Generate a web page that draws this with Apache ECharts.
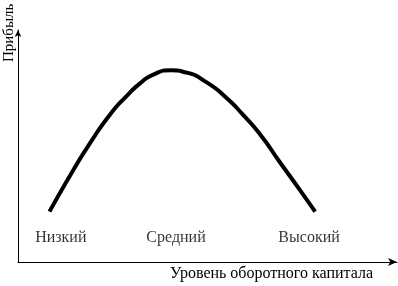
<!DOCTYPE html>
<html><head><meta charset="utf-8">
<script src="https://cdn.jsdelivr.net/npm/echarts@6/dist/echarts.min.js"></script>
<style>html,body{margin:0;padding:0;background:#fff}#c{width:398px;height:286px}</style>
</head><body><div id="c"></div>
<script>
// Curve (abstract units 0..100 on both axes)
const curveX = [8.3, 14.6, 19.0, 24.3, 28.7, 32.2, 35.7, 40.4, 44.5, 49.8, 55.1, 59.4, 63.9, 69.1, 74.4, 78.4];
const curveY = [21.7, 39.7, 51.2, 63.6, 71.6, 77.0, 80.8, 82.6, 81.6, 77.4, 70.6, 63.4, 55.0, 43.0, 31.0, 21.7];
// Level labels
const levelNames = ['Низкий', 'Средний', 'Высокий'];
const levelX = [11.3, 41.7, 76.8];
const levelY = [10.6, 10.6, 10.6];
const xName = 'Уровень оборотного капитала';
const yName = 'Прибыль';

const font = 'Liberation Serif, Times New Roman, serif';
const chart = echarts.init(document.getElementById('c'), null, {renderer: 'canvas'});
chart.setOption({
  animation: false,
  backgroundColor: '#fff',
  grid: {left: 18, top: 30, right: 1, bottom: 24, containLabel: false},
  xAxis: {
    type: 'value', min: 0, max: 100,
    axisLine: {show: true, lineStyle: {color: '#000', width: 1}, symbol: ['none', 'arrow'], symbolSize: [6, 9], symbolOffset: [0, 0]},
    axisTick: {show: false}, axisLabel: {show: false}, splitLine: {show: false}
  },
  yAxis: {
    type: 'value', min: 0, max: 100,
    axisLine: {show: true, lineStyle: {color: '#000', width: 1}, symbol: ['none', 'arrow'], symbolSize: [5, 7]},
    axisTick: {show: false}, axisLabel: {show: false}, splitLine: {show: false}
  },
  series: [
    {
      type: 'line', smooth: 0.6, showSymbol: false,
      data: curveX.map((x, i) => [x, curveY[i]]),
      lineStyle: {color: '#000', width: 4}
    },
    {
      type: 'scatter', symbolSize: 0,
      data: levelX.map((x, i) => ({value: [x, levelY[i]], name: levelNames[i]})),
      label: {show: true, position: 'inside', formatter: p => p.name, color: '#000', fontFamily: font, fontSize: 16}
    }
  ],
  graphic: [
    {type: 'text', left: 170, top: 266, style: {text: xName, fill: '#000', font: '16px ' + font}},
    {type: 'text', x: 2, y: 62, rotation: Math.PI / 2, style: {text: yName, fill: '#000', font: '15px ' + font}}
  ]
});
</script></body></html>
